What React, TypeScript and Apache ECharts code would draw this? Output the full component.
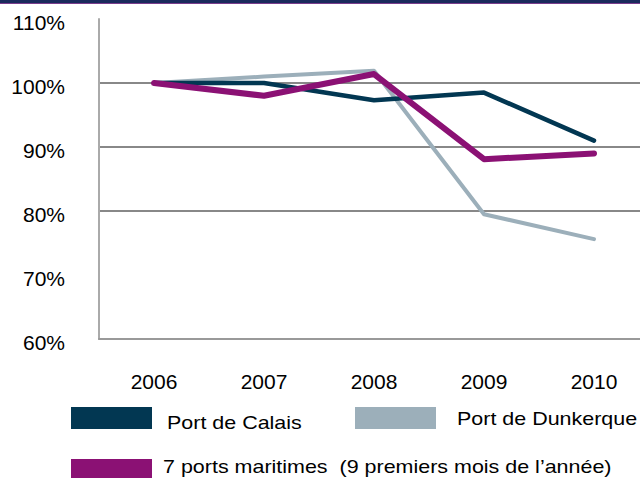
import React, { useEffect, useRef } from "react";
import * as echarts from "echarts";

const years = ["2006", "2007", "2008", "2009", "2010"];
const calais = [100, 100, 97.3, 98.5, 91.0];
const dunkerque = [100, 101.0, 101.9, 79.5, 75.6];
const septPorts = [100, 98.0, 101.4, 88.1, 89.0];
const seriesNames = [
  "Port de Calais",
  "Port de Dunkerque",
  "7 ports maritimes  (9 premiers mois de l\u2019ann\u00e9e)",
];
const colors = ["#023752", "#9CAFBA", "#8B1174"];

export default function App() {
  const ref = useRef<HTMLDivElement>(null);
  useEffect(() => {
    if (!ref.current) return;
    const chart = echarts.init(ref.current, undefined, { renderer: "svg" });
    const font = "'Liberation Sans', Arial, sans-serif";
    const legendText = (text: string, x: number, y: number) => ({
      type: "text",
      x,
      y,
      scaleX: 1.13,
      style: { text, fill: "#000", font: "19px " + font, verticalAlign: "middle" },
    });
    chart.setOption({
      animation: false,
      backgroundColor: "#ffffff",
      textStyle: { fontFamily: font },
      grid: { left: 99, top: 19, width: 550, height: 320, containLabel: false },
      xAxis: {
        type: "category",
        data: years,
        boundaryGap: true,
        axisLine: { show: true, lineStyle: { color: "#999999", width: 2 } },
        axisTick: { show: false },
        axisLabel: { color: "#000000", fontSize: 21, margin: 32, fontFamily: font },
        splitLine: { show: false },
      },
      yAxis: {
        type: "value",
        min: 60,
        max: 110,
        interval: 10,
        axisLine: { show: true, onZero: false, lineStyle: { color: "#aaaaaa", width: 2 } },
        axisTick: { show: false },
        axisLabel: {
          color: "#000000",
          fontSize: 21,
          margin: 34,
          fontFamily: font,
          verticalAlign: "top",
          lineHeight: 6,
          formatter: (v: number) => v + "%",
        },
        splitLine: {
          show: true,
          lineStyle: {
            color: ["transparent", "transparent", "#888888", "#888888", "#888888", "transparent"],
            width: 2,
          },
        },
      },
      series: [
        {
          name: seriesNames[1],
          type: "line",
          data: dunkerque,
          symbol: "none",
          z: 2,
          lineStyle: { color: colors[1], width: 4, cap: "round", join: "round" },
        },
        {
          name: seriesNames[0],
          type: "line",
          data: calais,
          symbol: "none",
          z: 3,
          lineStyle: { color: colors[0], width: 4.5, cap: "round", join: "round" },
        },
        {
          name: seriesNames[2],
          type: "line",
          data: septPorts,
          symbol: "none",
          z: 4,
          lineStyle: { color: colors[2], width: 6, cap: "round", join: "round" },
        },
      ],
      graphic: [
        { type: "rect", shape: { x: 0, y: 0, width: 660, height: 3 }, style: { fill: "#1B2A5C" } },
        { type: "rect", shape: { x: 0, y: 3, width: 660, height: 1 }, style: { fill: "#7A3D8C" } },
        { type: "rect", shape: { x: 71, y: 407, width: 81, height: 22 }, style: { fill: colors[0] } },
        legendText(seriesNames[0], 167, 422),
        { type: "rect", shape: { x: 355, y: 407, width: 81, height: 22 }, style: { fill: colors[1] } },
        legendText(seriesNames[1], 457, 418),
        { type: "rect", shape: { x: 71, y: 459, width: 81, height: 22 }, style: { fill: colors[2] } },
        legendText(seriesNames[2], 163, 466),
      ],
    });
    return () => chart.dispose();
  }, []);
  return (
    <div
      style={{
        position: "fixed",
        left: 0,
        top: 0,
        width: 640,
        height: 478,
        overflow: "hidden",
        background: "#fff",
      }}
    >
      <div ref={ref} style={{ width: 660, height: 478 }} />
    </div>
  );
}
